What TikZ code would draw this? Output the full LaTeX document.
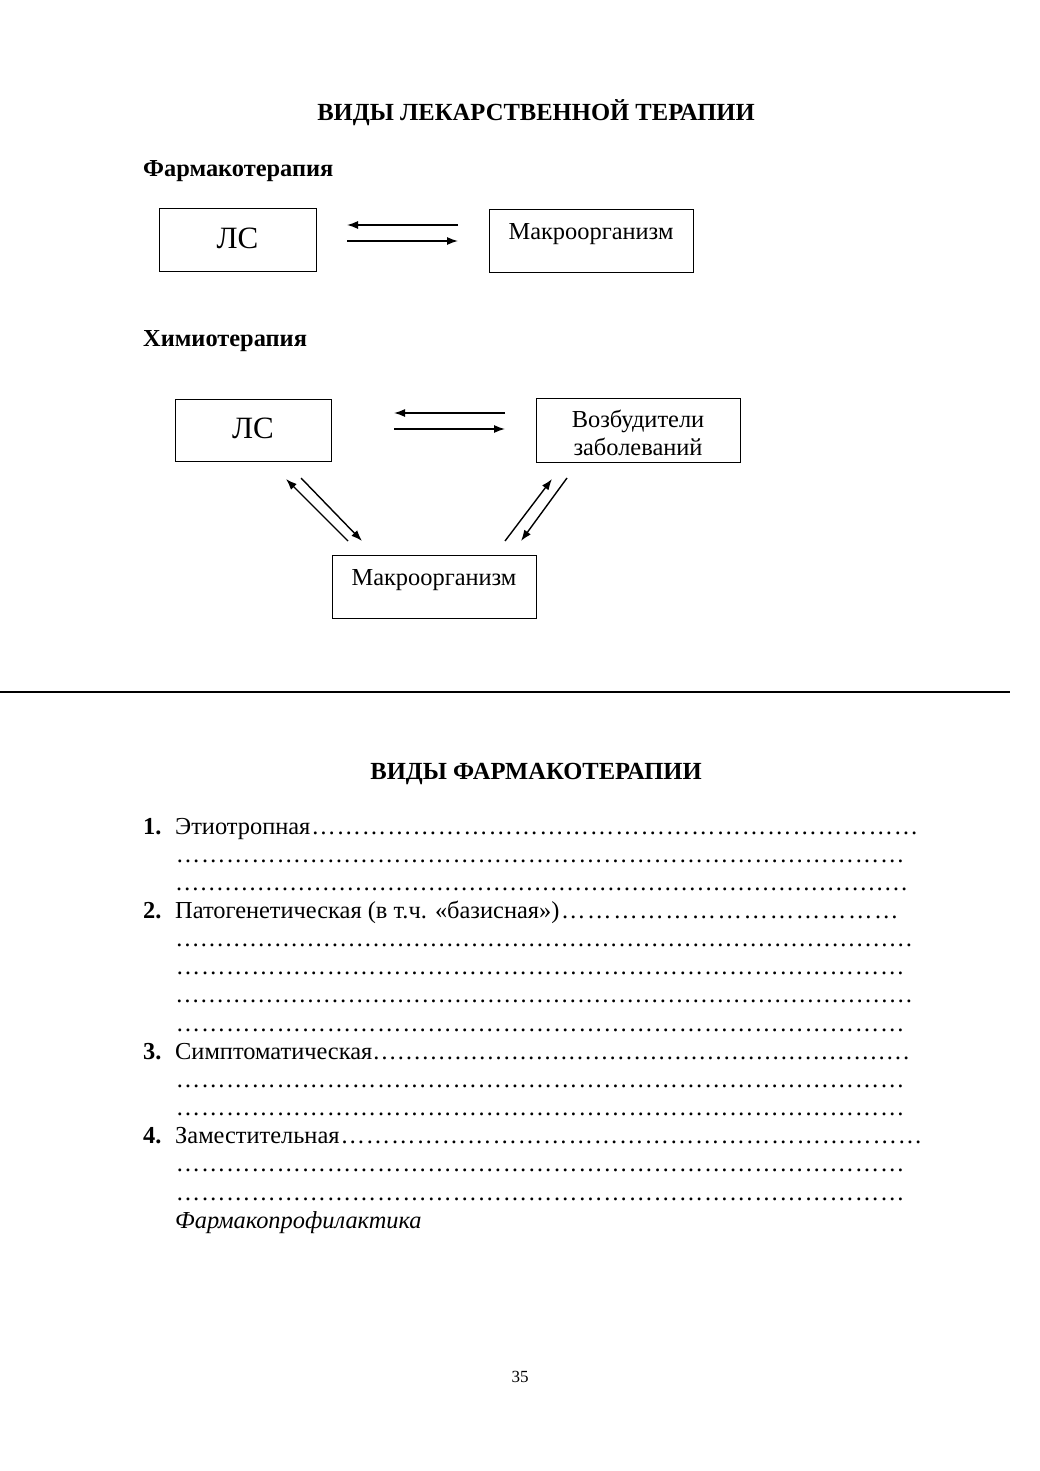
\documentclass[tikz,border=0pt]{standalone}
\usepackage{fontspec}
\setmainfont{Liberation Serif}
\usetikzlibrary{arrows.meta,calc}
\newcommand\dotrow[2]{\hbox to #1pt{#2\xleaders\hbox{…}\hfill}}
\begin{document}
\begin{tikzpicture}[x=1pt,y=-1pt,
  box/.style={draw, line width=1pt, inner sep=0pt},
  arr/.style={line width=1.4pt, -{Latex[length=11pt,width=8pt]}},
  body/.style={font=\fontsize{24.4}{28}\selectfont, inner sep=0pt, anchor=base},
  lsfont/.style={font=\fontsize{31}{36}\selectfont, inner sep=0pt, anchor=base},
  head/.style={font=\fontsize{24.4}{28}\selectfont\bfseries, inner sep=0pt, anchor=base west},
  row/.style={font=\fontsize{24.4}{28}\selectfont, inner sep=0pt, anchor=base west},
  num/.style={font=\fontsize{24.4}{28}\selectfont\bfseries, inner sep=0pt, anchor=base west}]
\useasboundingbox (0,0) rectangle (1039,1471);
\fill[white] (0,0) rectangle (1039,1471);

% ---- title 1
\node[body, font=\fontsize{24.6}{28}\selectfont\bfseries] (t1) at (536,121) {ВИДЫ ЛЕКАРСТВЕННОЙ ТЕРАПИИ};

% ---- Farmakoterapiya
\node[head] (h1) at (143,177) {Фармакотерапия};
\node[box, minimum width=157pt, minimum height=62pt] (ls1) at (237.5,240) {};
\node[lsfont] (ls1t) at (237.5,248) {ЛС};
\node[box, minimum width=204pt, minimum height=62pt] (m1) at (591,241) {};
\node[body] (m1t) at (591,240) {Макроорганизм};
\coordinate (a1s) at (458,225); \coordinate (a1e) at (347,225);
\coordinate (a2s) at (347,241); \coordinate (a2e) at (458,241);
\draw[arr] (a1s) -- (a1e);
\draw[arr] (a2s) -- (a2e);

% ---- Khimioterapiya
\node[head] (h2) at (143,346) {Химиотерапия};
\node[box, minimum width=156pt, minimum height=62pt] (ls2) at (253,430) {};
\node[lsfont] (ls2t) at (253,438) {ЛС};
\node[box, minimum width=204pt, minimum height=64pt] (vz) at (638,430) {};
\node[body] (vzt1) at (638,427) {Возбудители};
\node[body] (vzt2) at (638,455) {заболеваний};
\node[box, minimum width=204pt, minimum height=63pt] (m2) at (434,586.5) {};
\node[body] (m2t) at (434,585) {Макроорганизм};

\coordinate (b1s) at (505,413); \coordinate (b1e) at (394,413);
\coordinate (b2s) at (394,429); \coordinate (b2e) at (505,429);
\draw[arr] (b1s) -- (b1e);
\draw[arr] (b2s) -- (b2e);

\coordinate (c1s) at (348,541); \coordinate (c1e) at (286,479);
\coordinate (c2s) at (301,478); \coordinate (c2e) at (362,541);
\draw[arr] (c1s) -- (c1e);
\draw[arr] (c2s) -- (c2e);

\coordinate (d1s) at (505,541); \coordinate (d1e) at (552,479);
\coordinate (d2s) at (567,478); \coordinate (d2e) at (521,541);
\draw[arr] (d1s) -- (d1e);
\draw[arr] (d2s) -- (d2e);

% ---- rule
\coordinate (r1) at (0,692); \coordinate (r2) at (1010,692);
\draw[line width=1.5pt] (r1) -- (r2);

% ---- title 2
\node[body, font=\fontsize{24.6}{28}\selectfont\bfseries] (t2) at (536,779) {ВИДЫ ФАРМАКОТЕРАПИИ};

% ---- list
\node[num] (n1) at (143,834) {1.};
\node[row] (l1) at (175,834) {\dotrow{744}{Этиотропная}};
\node[row] (l2) at (175,862.2) {\dotrow{730}{}};
\node[row] (l3) at (175,890.3) {\dotrow{733}{}};
\node[num] (n2) at (143,918.5) {2.};
\node[row] (l4) at (175,918.5) {\dotrow{725}{Патогенетическая (в т.ч. «базисная»)}};
\node[row] (l5) at (175,946.6) {\dotrow{738}{}};
\node[row] (l6) at (175,974.8) {\dotrow{730}{}};
\node[row] (l7) at (175,1002.9) {\dotrow{738}{}};
\node[row] (l8) at (175,1031.1) {\dotrow{730}{}};
\node[num] (n3) at (143,1059.2) {3.};
\node[row] (l9) at (175,1059.2) {\dotrow{735}{Симптоматическая}};
\node[row] (l10) at (175,1087.4) {\dotrow{730}{}};
\node[row] (l11) at (175,1115.5) {\dotrow{730}{}};
\node[num] (n4) at (143,1143.7) {4.};
\node[row] (l12) at (175,1143.7) {\dotrow{748}{Заместительная}};
\node[row] (l13) at (175,1171.8) {\dotrow{730}{}};
\node[row] (l14) at (175,1200) {\dotrow{730}{}};
\node[row, font=\fontsize{24.4}{28}\selectfont\itshape] (l15) at (175,1228) {Фармакопрофилактика};

% ---- page number
\node[body, font=\fontsize{17}{20}\selectfont] (pg) at (520,1382) {35};
\end{tikzpicture}
\end{document}
